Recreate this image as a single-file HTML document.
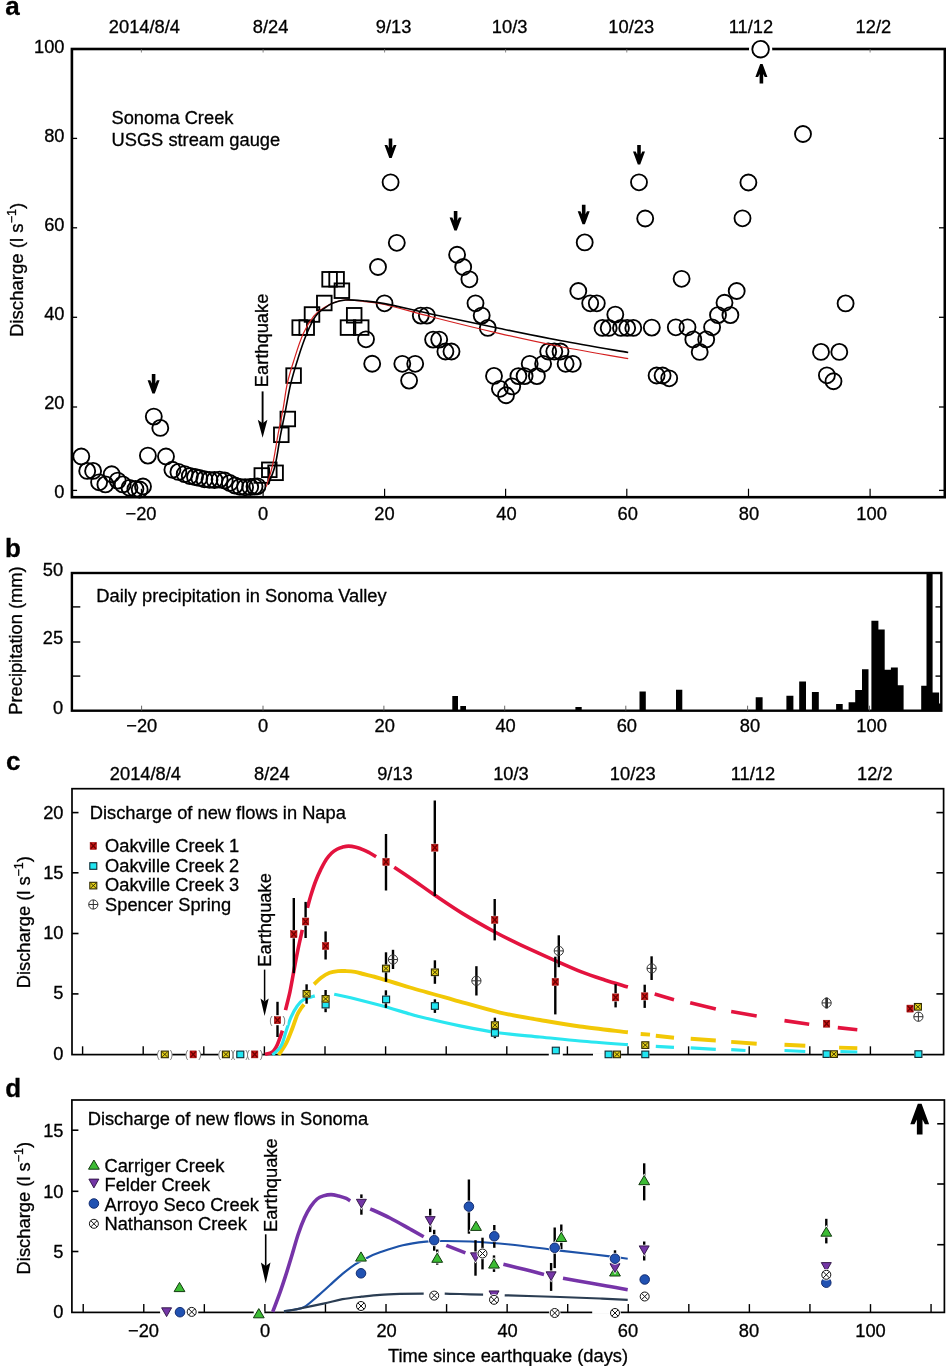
<!DOCTYPE html><html><head><meta charset="utf-8"><style>html,body{margin:0;padding:0;background:#fff;}svg{display:block;will-change:transform;} text{stroke:#000;stroke-width:0.3px;}</style></head><body>
<svg width="946" height="1366" viewBox="0 0 946 1366" font-family="'Liberation Sans', sans-serif" fill="#000">
<rect x="0" y="0" width="946" height="1366" fill="#fff"/>
<text x="5.2" y="14.8" font-size="26" text-anchor="start" font-weight="bold" >a</text>
<text x="144.4" y="33.2" font-size="18.3" text-anchor="middle" font-weight="normal" >2014/8/4</text>
<text x="270.6" y="33.2" font-size="18.3" text-anchor="middle" font-weight="normal" >8/24</text>
<text x="393.6" y="33.2" font-size="18.3" text-anchor="middle" font-weight="normal" >9/13</text>
<text x="509.6" y="33.2" font-size="18.3" text-anchor="middle" font-weight="normal" >10/3</text>
<text x="631.2" y="33.2" font-size="18.3" text-anchor="middle" font-weight="normal" >10/23</text>
<text x="751" y="33.2" font-size="18.3" text-anchor="middle" font-weight="normal" >11/12</text>
<text x="873.4" y="33.2" font-size="18.3" text-anchor="middle" font-weight="normal" >12/2</text>
<rect x="71.9" y="49.0" width="872.9" height="448.2" fill="none" stroke="#000" stroke-width="2.6"/>
<line x1="71.9" y1="138.4" x2="77.10000000000001" y2="138.4" stroke="#000" stroke-width="1.3" />
<line x1="944.8" y1="138.4" x2="939.0" y2="138.4" stroke="#000" stroke-width="1.3" />
<line x1="71.9" y1="227.8" x2="77.10000000000001" y2="227.8" stroke="#000" stroke-width="1.3" />
<line x1="944.8" y1="227.8" x2="939.0" y2="227.8" stroke="#000" stroke-width="1.3" />
<line x1="71.9" y1="317.3" x2="77.10000000000001" y2="317.3" stroke="#000" stroke-width="1.3" />
<line x1="944.8" y1="317.3" x2="939.0" y2="317.3" stroke="#000" stroke-width="1.3" />
<line x1="71.9" y1="407.0" x2="77.10000000000001" y2="407.0" stroke="#000" stroke-width="1.3" />
<line x1="944.8" y1="407.0" x2="939.0" y2="407.0" stroke="#000" stroke-width="1.3" />
<line x1="71.9" y1="490.4" x2="77.10000000000001" y2="490.4" stroke="#000" stroke-width="1.3" />
<line x1="944.8" y1="490.4" x2="939.0" y2="490.4" stroke="#000" stroke-width="1.3" />
<line x1="141.4" y1="497.2" x2="141.4" y2="488.7" stroke="#000" stroke-width="1.2" />
<line x1="141.4" y1="49.0" x2="141.4" y2="52.5" stroke="#666" stroke-width="0.8" />
<line x1="263.1" y1="497.2" x2="263.1" y2="488.7" stroke="#000" stroke-width="1.2" />
<line x1="263.1" y1="49.0" x2="263.1" y2="52.5" stroke="#666" stroke-width="0.8" />
<line x1="384.6" y1="497.2" x2="384.6" y2="488.7" stroke="#000" stroke-width="1.2" />
<line x1="384.6" y1="49.0" x2="384.6" y2="52.5" stroke="#666" stroke-width="0.8" />
<line x1="505.6" y1="497.2" x2="505.6" y2="488.7" stroke="#000" stroke-width="1.2" />
<line x1="505.6" y1="49.0" x2="505.6" y2="52.5" stroke="#666" stroke-width="0.8" />
<line x1="626.8" y1="497.2" x2="626.8" y2="488.7" stroke="#000" stroke-width="1.2" />
<line x1="626.8" y1="49.0" x2="626.8" y2="52.5" stroke="#666" stroke-width="0.8" />
<line x1="748.5" y1="497.2" x2="748.5" y2="488.7" stroke="#000" stroke-width="1.2" />
<line x1="870.1" y1="497.2" x2="870.1" y2="488.7" stroke="#000" stroke-width="1.2" />
<line x1="870.1" y1="49.0" x2="870.1" y2="52.5" stroke="#666" stroke-width="0.8" />
<text x="64.5" y="53" font-size="18.3" text-anchor="end" font-weight="normal" >100</text>
<text x="64.5" y="142.2" font-size="18.3" text-anchor="end" font-weight="normal" >80</text>
<text x="64.5" y="231" font-size="18.3" text-anchor="end" font-weight="normal" >60</text>
<text x="64.5" y="319.8" font-size="18.3" text-anchor="end" font-weight="normal" >40</text>
<text x="64.5" y="409.2" font-size="18.3" text-anchor="end" font-weight="normal" >20</text>
<text x="64.5" y="498.2" font-size="18.3" text-anchor="end" font-weight="normal" >0</text>
<text x="141" y="520" font-size="18.3" text-anchor="middle" font-weight="normal" >−20</text>
<text x="263.1" y="520" font-size="18.3" text-anchor="middle" font-weight="normal" >0</text>
<text x="384.4" y="520" font-size="18.3" text-anchor="middle" font-weight="normal" >20</text>
<text x="506.4" y="520" font-size="18.3" text-anchor="middle" font-weight="normal" >40</text>
<text x="627.7" y="520" font-size="18.3" text-anchor="middle" font-weight="normal" >60</text>
<text x="749" y="520" font-size="18.3" text-anchor="middle" font-weight="normal" >80</text>
<text x="871.6" y="520" font-size="18.3" text-anchor="middle" font-weight="normal" >100</text>
<text transform="translate(22.5,337) rotate(-90)" font-size="18.6">Discharge (l s<tspan dy="-7" font-size="12.5">−1</tspan><tspan dy="7">)</tspan></text>
<text x="111.5" y="123.7" font-size="18.3" text-anchor="start" font-weight="normal" >Sonoma Creek</text>
<text x="111.5" y="146.1" font-size="18.3" text-anchor="start" font-weight="normal" >USGS stream gauge</text>
<g fill="none" stroke="#000" stroke-width="1.85">
<circle cx="81.3" cy="456.5" r="8.0"/>
<circle cx="87.2" cy="470.9" r="8.0"/>
<circle cx="93.1" cy="470.9" r="8.0"/>
<circle cx="99.1" cy="482.3" r="8.0"/>
<circle cx="105.4" cy="484.4" r="8.0"/>
<circle cx="111.7" cy="474.2" r="8.0"/>
<circle cx="117.7" cy="480.6" r="8.0"/>
<circle cx="122.7" cy="484.4" r="8.0"/>
<circle cx="129.5" cy="487.8" r="8.0"/>
<circle cx="135.4" cy="489" r="8.0"/>
<circle cx="139.7" cy="489.5" r="8.0"/>
<circle cx="143" cy="486.5" r="8.0"/>
<circle cx="147.9" cy="455.6" r="8.0"/>
<circle cx="153.8" cy="416.6" r="8.0"/>
<circle cx="160.3" cy="427.9" r="8.0"/>
<circle cx="166" cy="456.5" r="8.0"/>
<circle cx="172.4" cy="469.7" r="8.0"/>
<circle cx="178.4" cy="471.9" r="8.0"/>
<circle cx="184.7" cy="474.1" r="8.0"/>
<circle cx="189.8" cy="476" r="8.0"/>
<circle cx="195" cy="477" r="8.0"/>
<circle cx="199.3" cy="477.9" r="8.0"/>
<circle cx="204.4" cy="479.2" r="8.0"/>
<circle cx="209.5" cy="479.8" r="8.0"/>
<circle cx="214.5" cy="480" r="8.0"/>
<circle cx="219.6" cy="479.6" r="8.0"/>
<circle cx="224.7" cy="480.5" r="8.0"/>
<circle cx="229.8" cy="483" r="8.0"/>
<circle cx="234.9" cy="485.5" r="8.0"/>
<circle cx="240" cy="486.8" r="8.0"/>
<circle cx="245.1" cy="487.2" r="8.0"/>
<circle cx="250.2" cy="487" r="8.0"/>
<circle cx="254.5" cy="486.6" r="8.0"/>
<circle cx="257.5" cy="486.3" r="8.0"/>
<circle cx="378" cy="267" r="8.0"/>
<circle cx="384.5" cy="303.3" r="8.0"/>
<circle cx="390.6" cy="182.3" r="8.0"/>
<circle cx="396.8" cy="242.8" r="8.0"/>
<circle cx="366" cy="339.3" r="8.0"/>
<circle cx="372.2" cy="363.7" r="8.0"/>
<circle cx="402.3" cy="363.8" r="8.0"/>
<circle cx="415.2" cy="363.8" r="8.0"/>
<circle cx="409.1" cy="380.6" r="8.0"/>
<circle cx="420.8" cy="315.6" r="8.0"/>
<circle cx="426.9" cy="315.6" r="8.0"/>
<circle cx="433.1" cy="339.6" r="8.0"/>
<circle cx="439.2" cy="339.6" r="8.0"/>
<circle cx="445.4" cy="351.5" r="8.0"/>
<circle cx="451.5" cy="351.5" r="8.0"/>
<circle cx="457.1" cy="254.7" r="8.0"/>
<circle cx="463.2" cy="267" r="8.0"/>
<circle cx="469.4" cy="279.3" r="8.0"/>
<circle cx="475.5" cy="303.3" r="8.0"/>
<circle cx="481.7" cy="315.6" r="8.0"/>
<circle cx="487.8" cy="327.9" r="8.0"/>
<circle cx="494" cy="375.9" r="8.0"/>
<circle cx="499.9" cy="388.8" r="8.0"/>
<circle cx="506" cy="395.2" r="8.0"/>
<circle cx="512.2" cy="386.4" r="8.0"/>
<circle cx="518.4" cy="376.1" r="8.0"/>
<circle cx="524.6" cy="376.1" r="8.0"/>
<circle cx="529.7" cy="363.8" r="8.0"/>
<circle cx="536.9" cy="376.1" r="8.0"/>
<circle cx="543.1" cy="363.8" r="8.0"/>
<circle cx="548.2" cy="351.5" r="8.0"/>
<circle cx="554.3" cy="351.5" r="8.0"/>
<circle cx="560.5" cy="351.5" r="8.0"/>
<circle cx="565.6" cy="363.8" r="8.0"/>
<circle cx="572.8" cy="363.8" r="8.0"/>
<circle cx="584.7" cy="242.4" r="8.0"/>
<circle cx="578.3" cy="291" r="8.0"/>
<circle cx="590.2" cy="303.3" r="8.0"/>
<circle cx="596.8" cy="303.3" r="8.0"/>
<circle cx="615.3" cy="314.6" r="8.0"/>
<circle cx="602.5" cy="327.9" r="8.0"/>
<circle cx="608.7" cy="327.9" r="8.0"/>
<circle cx="621" cy="327.9" r="8.0"/>
<circle cx="627.2" cy="327.9" r="8.0"/>
<circle cx="633.3" cy="327.9" r="8.0"/>
<circle cx="651.8" cy="327.6" r="8.0"/>
<circle cx="639" cy="182.3" r="8.0"/>
<circle cx="645.2" cy="218.5" r="8.0"/>
<circle cx="656.6" cy="375.5" r="8.0"/>
<circle cx="662.6" cy="375.5" r="8.0"/>
<circle cx="669.2" cy="378.3" r="8.0"/>
<circle cx="803" cy="134" r="8.0"/>
<circle cx="748.4" cy="182.5" r="8.0"/>
<circle cx="742.5" cy="218.3" r="8.0"/>
<circle cx="681.6" cy="278.8" r="8.0"/>
<circle cx="736.7" cy="291" r="8.0"/>
<circle cx="724.5" cy="302.7" r="8.0"/>
<circle cx="718" cy="315.1" r="8.0"/>
<circle cx="730.4" cy="315.1" r="8.0"/>
<circle cx="712.1" cy="327.3" r="8.0"/>
<circle cx="675.8" cy="327.3" r="8.0"/>
<circle cx="687.5" cy="327.3" r="8.0"/>
<circle cx="693.3" cy="339.4" r="8.0"/>
<circle cx="706.2" cy="339.4" r="8.0"/>
<circle cx="699.7" cy="351.9" r="8.0"/>
<circle cx="845.6" cy="303.4" r="8.0"/>
<circle cx="821" cy="351.9" r="8.0"/>
<circle cx="839.3" cy="351.9" r="8.0"/>
<circle cx="826.9" cy="375.3" r="8.0"/>
<circle cx="833.5" cy="381.2" r="8.0"/>
</g>
<g fill="none" stroke="#000" stroke-width="1.85">
<rect x="254.5" y="468.2" width="14.6" height="14.6"/>
<rect x="262.0" y="462.5" width="14.6" height="14.6"/>
<rect x="268.3" y="465.5" width="14.6" height="14.6"/>
<rect x="274.0" y="427.5" width="14.6" height="14.6"/>
<rect x="280.5" y="411.7" width="14.6" height="14.6"/>
<rect x="286.3" y="368.3" width="14.6" height="14.6"/>
<rect x="292.4" y="320.3" width="14.6" height="14.6"/>
<rect x="299.4" y="320.3" width="14.6" height="14.6"/>
<rect x="304.7" y="307.2" width="14.6" height="14.6"/>
<rect x="317.0" y="295.7" width="14.6" height="14.6"/>
<rect x="322.3" y="272.0" width="14.6" height="14.6"/>
<rect x="329.3" y="272.0" width="14.6" height="14.6"/>
<rect x="334.6" y="283.4" width="14.6" height="14.6"/>
<rect x="346.9" y="308.0" width="14.6" height="14.6"/>
<rect x="340.7" y="320.3" width="14.6" height="14.6"/>
<rect x="353.9" y="320.3" width="14.6" height="14.6"/>
</g>
<path d="M266.3,486.6 C267.3,483.1 270.6,474.0 272.5,465.5 C274.4,457.0 276.1,445.0 277.8,435.6 C279.6,426.2 281.4,418.1 283.0,409.3 C284.6,400.5 285.5,391.5 287.4,383.0 C289.3,374.5 291.9,366.6 294.5,358.4 C297.1,350.2 300.0,340.8 303.2,333.8 C306.4,326.8 310.3,320.6 313.8,316.2 C317.3,311.8 320.8,309.7 324.3,307.4 C327.8,305.1 331.4,303.4 334.9,302.2 C338.4,301.0 340.7,300.1 345.4,300.0 C350.1,299.9 356.5,300.6 363.0,301.3 C369.5,302.1 373.0,301.9 384.5,304.5 C396.0,307.1 412.8,312.1 432.0,317.0 C451.2,321.9 478.7,328.7 500.0,333.6 C521.3,338.5 538.6,342.3 560.0,346.5 C581.4,350.7 616.8,356.7 628.2,358.7" fill="none" stroke="#d42020" stroke-width="1.2" stroke-linejoin="round" />
<path d="M268.1,484.8 C269.3,481.6 273.1,473.7 275.1,465.5 C277.2,457.3 278.6,445.0 280.4,435.6 C282.2,426.2 283.9,418.1 285.7,409.3 C287.4,400.5 288.8,391.5 290.9,383.0 C292.9,374.5 295.4,366.6 298.0,358.4 C300.6,350.2 303.8,340.8 306.7,333.8 C309.6,326.8 312.6,320.4 315.5,316.2 C318.4,311.9 321.4,310.5 324.3,308.3 C327.2,306.1 329.6,304.4 333.1,303.0 C336.6,301.6 340.4,300.4 345.4,300.0 C350.4,299.6 356.5,300.2 363.0,300.8 C369.5,301.4 373.0,301.4 384.5,303.6 C396.0,305.8 412.8,310.1 432.0,314.2 C451.2,318.3 478.7,324.1 500.0,328.5 C521.3,332.9 538.6,336.5 560.0,340.5 C581.4,344.5 616.8,350.5 628.2,352.5" fill="none" stroke="#000" stroke-width="1.6" stroke-linejoin="round" />
<circle cx="760.6" cy="49.2" r="11.6" fill="#fff"/>
<circle cx="760.6" cy="49.2" r="8.3" fill="none" stroke="#000" stroke-width="1.85"/>
<path d="M151.80,373.90 L155.40,373.90 L155.40,383.40 L156.90,380.30 L159.60,380.30 L154.80,393.40 L152.40,393.40 L147.60,380.30 L150.30,380.30 L151.80,383.40 Z" fill="#000"/>
<path d="M388.70,138.50 L392.30,138.50 L392.30,148.00 L393.80,144.90 L396.50,144.90 L391.70,158.00 L389.30,158.00 L384.50,144.90 L387.20,144.90 L388.70,148.00 Z" fill="#000"/>
<path d="M453.80,211.00 L457.40,211.00 L457.40,220.50 L458.90,217.40 L461.60,217.40 L456.80,230.50 L454.40,230.50 L449.60,217.40 L452.30,217.40 L453.80,220.50 Z" fill="#000"/>
<path d="M581.90,204.80 L585.50,204.80 L585.50,214.30 L587.00,211.20 L589.70,211.20 L584.90,224.30 L582.50,224.30 L577.70,211.20 L580.40,211.20 L581.90,214.30 Z" fill="#000"/>
<path d="M637.20,145.00 L640.80,145.00 L640.80,154.50 L642.30,151.40 L645.00,151.40 L640.20,164.50 L637.80,164.50 L633.00,151.40 L635.70,151.40 L637.20,154.50 Z" fill="#000"/>
<path d="M759.60,83.50 L763.20,83.50 L763.20,74.00 L764.70,77.10 L767.40,77.10 L762.60,64.00 L760.20,64.00 L755.40,77.10 L758.10,77.10 L759.60,74.00 Z" fill="#000"/>
<text transform="translate(268.3,387.2) rotate(-90)" font-size="18.3">Earthquake</text>
<line x1="262.6" y1="391.4" x2="262.6" y2="423.3" stroke="#000" stroke-width="1.9" />
<path d="M262.6,437.8 L257.8,419.8 L262.6,423.3 L267.40000000000003,419.8 Z" fill="#000"/>
<text x="5" y="557.2" font-size="26" text-anchor="start" font-weight="bold" >b</text>
<rect x="71.9" y="573.0" width="869.4" height="137.70000000000005" fill="none" stroke="#000" stroke-width="2.4"/>
<line x1="71.9" y1="606.9" x2="80.30000000000001" y2="606.9" stroke="#000" stroke-width="1.4" />
<line x1="941.3" y1="606.9" x2="935.5" y2="606.9" stroke="#000" stroke-width="1.4" />
<line x1="71.9" y1="642.0" x2="80.30000000000001" y2="642.0" stroke="#000" stroke-width="1.4" />
<line x1="941.3" y1="642.0" x2="935.5" y2="642.0" stroke="#000" stroke-width="1.4" />
<line x1="71.9" y1="676.1" x2="80.30000000000001" y2="676.1" stroke="#000" stroke-width="1.4" />
<line x1="941.3" y1="676.1" x2="935.5" y2="676.1" stroke="#000" stroke-width="1.4" />
<line x1="141.6" y1="710.7" x2="141.6" y2="705.7" stroke="#555" stroke-width="0.9" />
<line x1="263.0" y1="710.7" x2="263.0" y2="705.7" stroke="#555" stroke-width="0.9" />
<line x1="383.9" y1="710.7" x2="383.9" y2="705.7" stroke="#555" stroke-width="0.9" />
<line x1="504.7" y1="710.7" x2="504.7" y2="705.7" stroke="#555" stroke-width="0.9" />
<line x1="625.8" y1="710.7" x2="625.8" y2="705.7" stroke="#555" stroke-width="0.9" />
<line x1="747.6" y1="710.7" x2="747.6" y2="705.7" stroke="#555" stroke-width="0.9" />
<line x1="869.5" y1="710.7" x2="869.5" y2="705.7" stroke="#555" stroke-width="0.9" />
<text x="63.2" y="576.3" font-size="18.3" text-anchor="end" font-weight="normal" >50</text>
<text x="63.2" y="644.4" font-size="18.3" text-anchor="end" font-weight="normal" >25</text>
<text x="63.2" y="713.8" font-size="18.3" text-anchor="end" font-weight="normal" >0</text>
<text x="141.8" y="731.8" font-size="18.3" text-anchor="middle" font-weight="normal" >−20</text>
<text x="263" y="731.8" font-size="18.3" text-anchor="middle" font-weight="normal" >0</text>
<text x="384.7" y="731.8" font-size="18.3" text-anchor="middle" font-weight="normal" >20</text>
<text x="505.6" y="731.8" font-size="18.3" text-anchor="middle" font-weight="normal" >40</text>
<text x="626.8" y="731.8" font-size="18.3" text-anchor="middle" font-weight="normal" >60</text>
<text x="750" y="731.8" font-size="18.3" text-anchor="middle" font-weight="normal" >80</text>
<text x="871.6" y="731.8" font-size="18.3" text-anchor="middle" font-weight="normal" >100</text>
<text transform="translate(22.3,714.7) rotate(-90)" font-size="18.3">Precipitation (mm)</text>
<text x="96.3" y="602.3" font-size="18.3" text-anchor="start" font-weight="normal" >Daily precipitation in Sonoma Valley</text>
<path d="M452.3,710.7 L452.3,696.1 L458.0,696.1 L458.0,710.7 Z M460.3,710.7 L460.3,706 L466.0,706 L466.0,710.7 Z M575.4,710.7 L575.4,706.9 L581.7,706.9 L581.7,710.7 Z M639.5,710.7 L639.5,691.4 L645.8,691.4 L645.8,710.7 Z M676,710.7 L676,689.8 L682.3,689.8 L682.3,710.7 Z M755.7,710.7 L755.7,697.2 L762.6,697.2 L762.6,710.7 Z M786.4,710.7 L786.4,695.7 L793.4,695.7 L793.4,710.7 Z M799.2,710.7 L799.2,681.5 L806.0,681.5 L806.0,710.7 Z M811.9,710.7 L811.9,692 L818.8,692 L818.8,710.7 Z M836.1,710.7 L836.1,704 L842.7,704 L842.7,710.7 Z M848.6,710.7 L848.6,702.3 L855.8,702.3 L855.8,710.7 Z M855.2,710.7 L855.2,689.9 L862.6,689.9 L862.6,710.7 Z M862,710.7 L862,669.2 L868.5,669.2 L868.5,710.7 Z M871.4,710.7 L871.4,620.7 L878.4,620.7 L878.4,710.7 Z M877.8,710.7 L877.8,629.6 L884.7,629.6 L884.7,710.7 Z M884.1,710.7 L884.1,669.8 L891.5,669.8 L891.5,710.7 Z M890.9,710.7 L890.9,667.4 L897.8,667.4 L897.8,710.7 Z M897.2,710.7 L897.2,685.2 L903.6,685.2 L903.6,710.7 Z M921.2,710.7 L921.2,685.8 L927.1,685.8 L927.1,710.7 Z M926.5,710.7 L926.5,573 L932.6,573 L932.6,710.7 Z M932,710.7 L932,692.6 L939.1,692.6 L939.1,710.7 Z M938.5,710.7 L938.5,703.4 L941.0,703.4 L941.0,710.7 Z " fill="#000"/>
<text x="6" y="770.4" font-size="26" text-anchor="start" font-weight="bold" >c</text>
<text x="145.4" y="779.9" font-size="18.3" text-anchor="middle" font-weight="normal" >2014/8/4</text>
<text x="271.9" y="779.9" font-size="18.3" text-anchor="middle" font-weight="normal" >8/24</text>
<text x="395" y="779.9" font-size="18.3" text-anchor="middle" font-weight="normal" >9/13</text>
<text x="511" y="779.9" font-size="18.3" text-anchor="middle" font-weight="normal" >10/3</text>
<text x="632.7" y="779.9" font-size="18.3" text-anchor="middle" font-weight="normal" >10/23</text>
<text x="752.9" y="779.9" font-size="18.3" text-anchor="middle" font-weight="normal" >11/12</text>
<text x="874.8" y="779.9" font-size="18.3" text-anchor="middle" font-weight="normal" >12/2</text>
<rect x="72.0" y="788.7" width="871.6" height="265.89999999999986" fill="none" stroke="#000" stroke-width="1.7"/>
<line x1="72.0" y1="812.6" x2="78.5" y2="812.6" stroke="#000" stroke-width="1.6" />
<line x1="943.6" y1="812.6" x2="936.4" y2="812.6" stroke="#000" stroke-width="1.6" />
<line x1="72.0" y1="872.8" x2="78.5" y2="872.8" stroke="#000" stroke-width="1.6" />
<line x1="943.6" y1="872.8" x2="936.4" y2="872.8" stroke="#000" stroke-width="1.6" />
<line x1="72.0" y1="933.5" x2="78.5" y2="933.5" stroke="#000" stroke-width="1.6" />
<line x1="943.6" y1="933.5" x2="936.4" y2="933.5" stroke="#000" stroke-width="1.6" />
<line x1="72.0" y1="993.9" x2="78.5" y2="993.9" stroke="#000" stroke-width="1.6" />
<line x1="943.6" y1="993.9" x2="936.4" y2="993.9" stroke="#000" stroke-width="1.6" />
<line x1="82.6" y1="1054.6" x2="82.6" y2="1046.3" stroke="#000" stroke-width="1.4" />
<line x1="143.2" y1="1054.6" x2="143.2" y2="1046.3" stroke="#000" stroke-width="1.4" />
<line x1="203.79999999999998" y1="1054.6" x2="203.79999999999998" y2="1046.3" stroke="#000" stroke-width="1.4" />
<line x1="264.4" y1="1054.6" x2="264.4" y2="1046.3" stroke="#000" stroke-width="1.4" />
<line x1="325.0" y1="1054.6" x2="325.0" y2="1046.3" stroke="#000" stroke-width="1.4" />
<line x1="385.59999999999997" y1="1054.6" x2="385.59999999999997" y2="1046.3" stroke="#000" stroke-width="1.4" />
<line x1="446.19999999999993" y1="1054.6" x2="446.19999999999993" y2="1046.3" stroke="#000" stroke-width="1.4" />
<line x1="506.79999999999995" y1="1054.6" x2="506.79999999999995" y2="1046.3" stroke="#000" stroke-width="1.4" />
<line x1="567.4" y1="1054.6" x2="567.4" y2="1046.3" stroke="#000" stroke-width="1.4" />
<line x1="628.0" y1="1054.6" x2="628.0" y2="1046.3" stroke="#000" stroke-width="1.4" />
<line x1="688.5999999999999" y1="1054.6" x2="688.5999999999999" y2="1046.3" stroke="#000" stroke-width="1.4" />
<line x1="749.1999999999999" y1="1054.6" x2="749.1999999999999" y2="1046.3" stroke="#000" stroke-width="1.4" />
<line x1="809.8" y1="1054.6" x2="809.8" y2="1046.3" stroke="#000" stroke-width="1.4" />
<line x1="870.4" y1="1054.6" x2="870.4" y2="1046.3" stroke="#000" stroke-width="1.4" />
<text x="63.5" y="818.6" font-size="18.3" text-anchor="end" font-weight="normal" >20</text>
<text x="63.5" y="879" font-size="18.3" text-anchor="end" font-weight="normal" >15</text>
<text x="63.5" y="938.9" font-size="18.3" text-anchor="end" font-weight="normal" >10</text>
<text x="63.5" y="999" font-size="18.3" text-anchor="end" font-weight="normal" >5</text>
<text x="63.5" y="1059.9" font-size="18.3" text-anchor="end" font-weight="normal" >0</text>
<text transform="translate(30.2,988.2) rotate(-90)" font-size="18.3">Discharge (l s<tspan dy="-7" font-size="12.5">−1</tspan><tspan dy="7">)</tspan></text>
<text x="89.8" y="819.3" font-size="18.3" text-anchor="start" font-weight="normal" >Discharge of new flows in Napa</text>
<rect x="90.10" y="842.40" width="6.4" height="7.0" fill="#d01818" stroke="#8a0000" stroke-width="0.5"/>
<path d="M90.70,843.00 L95.90,848.80 M95.90,843.00 L90.70,848.80" stroke="#6e0000" stroke-width="1.3"/>
<text x="105.1" y="852" font-size="18.3" text-anchor="start" font-weight="normal" >Oakville Creek 1</text>
<rect x="89.80" y="862.70" width="7.0" height="6.6" fill="#22e6f2" stroke="#0b2a33" stroke-width="1.1"/>
<text x="105.1" y="871.8" font-size="18.3" text-anchor="start" font-weight="normal" >Oakville Creek 2</text>
<rect x="89.80" y="882.30" width="7.0" height="6.6" fill="#e6d21a" stroke="#2e2800" stroke-width="1.1"/>
<path d="M90.70,883.20 L95.90,888.00 M95.90,883.20 L90.70,888.00" stroke="#2e2800" stroke-width="0.9"/>
<text x="105.1" y="891.2" font-size="18.3" text-anchor="start" font-weight="normal" >Oakville Creek 3</text>
<circle cx="93.3" cy="904.5" r="4.6" fill="none" stroke="#333" stroke-width="1.0"/>
<path d="M88.7,904.5 L97.89999999999999,904.5 M93.3,899.9 L93.3,909.1" stroke="#333" stroke-width="1.0"/>
<text x="105.1" y="911.3" font-size="18.3" text-anchor="start" font-weight="normal" >Spencer Spring</text>
<path d="M265.0,1054.4 C266.2,1054.0 270.4,1053.6 272.5,1051.9 C274.6,1050.2 275.8,1047.9 277.4,1044.4 C279.0,1040.9 281.6,1033.0 282.4,1030.7" fill="none" stroke="#e3133e" stroke-width="3.6" stroke-linejoin="round" />
<path d="M285.5,1010.2 C286.2,1007.2 288.5,998.4 289.9,992.1 C291.2,985.8 292.4,978.8 293.6,972.2 C294.9,965.6 295.9,959.3 297.4,952.3 C298.8,945.2 301.5,933.6 302.3,929.9" fill="none" stroke="#e3133e" stroke-width="3.6" stroke-linejoin="round" />
<path d="M307.4,907.9 C307.9,906.0 309.2,900.9 310.6,896.3 C312.0,891.7 314.1,885.1 315.9,880.5 C317.6,875.9 319.4,872.3 321.1,868.8 C322.9,865.3 324.6,861.9 326.4,859.3 C328.2,856.7 329.9,854.7 331.7,853.0 C333.5,851.3 335.2,850.3 337.0,849.3 C338.8,848.3 340.4,847.7 342.3,847.2 C344.2,846.7 346.3,846.1 348.6,846.1 C350.9,846.1 353.5,846.6 356.0,847.2 C358.5,847.8 361.1,848.8 363.4,849.8 C365.7,850.8 367.7,851.9 369.8,853.0 C371.9,854.1 375.1,856.1 376.1,856.7" fill="none" stroke="#e3133e" stroke-width="3.6" stroke-linejoin="round" />
<path d="M394.2,867.2 C397.7,869.5 408.2,876.5 415.0,881.2 C421.8,885.9 426.9,889.8 434.9,895.2 C442.9,900.6 452.8,907.5 462.8,913.6 C472.8,919.7 485.4,926.8 494.9,932.0 C504.4,937.2 510.2,940.0 520.0,944.6 C529.8,949.2 543.3,955.2 553.5,959.8 C563.7,964.3 572.9,968.5 581.4,971.9 C589.9,975.3 597.0,977.5 604.7,980.0 C612.5,982.5 624.0,985.8 627.9,987.0" fill="none" stroke="#e3133e" stroke-width="3.6" stroke-linejoin="round" />
<polyline points="654.7,994.0 674.0,999.8" fill="none" stroke="#e3133e" stroke-width="3.6" stroke-linejoin="round" stroke-linecap="butt" />
<polyline points="690.2,1002.8 715.8,1009.0" fill="none" stroke="#e3133e" stroke-width="3.6" stroke-linejoin="round" stroke-linecap="butt" />
<polyline points="731.2,1011.5 756.7,1015.9" fill="none" stroke="#e3133e" stroke-width="3.6" stroke-linejoin="round" stroke-linecap="butt" />
<polyline points="784.5,1020.6 809.2,1024.2" fill="none" stroke="#e3133e" stroke-width="3.6" stroke-linejoin="round" stroke-linecap="butt" />
<polyline points="837.8,1027.6 857.3,1029.7" fill="none" stroke="#e3133e" stroke-width="3.6" stroke-linejoin="round" stroke-linecap="butt" />
<path d="M278.7,1055.0 C279.9,1053.0 283.9,1047.7 286.2,1043.2 C288.5,1038.7 290.5,1033.0 292.4,1028.2 C294.3,1023.4 295.9,1017.8 297.4,1014.5 C298.8,1011.2 300.0,1010.0 301.1,1008.3 C302.2,1006.6 303.5,1005.1 304.0,1004.5" fill="none" stroke="#f2c806" stroke-width="3.9" stroke-linejoin="round" />
<path d="M314.0,984.2 C315.2,983.1 318.5,979.7 321.1,977.8 C323.7,975.9 326.8,973.9 329.6,972.8 C332.4,971.7 335.2,971.4 338.0,971.1 C340.8,970.8 343.7,971.0 346.5,971.1 C349.3,971.2 352.2,971.4 355.0,971.9 C357.8,972.4 360.6,973.3 363.4,974.0 C366.2,974.7 369.1,975.4 371.9,976.1 C374.7,976.8 373.6,976.4 380.0,978.3 C386.4,980.2 397.8,983.9 410.0,987.5 C422.2,991.1 438.5,995.6 453.5,999.8 C468.5,1004.0 485.6,1009.2 500.0,1012.6 C514.4,1016.0 526.7,1017.7 540.0,1020.0 C553.3,1022.3 565.4,1024.5 580.0,1026.5 C594.6,1028.5 619.9,1031.3 627.9,1032.3" fill="none" stroke="#f2c806" stroke-width="3.9" stroke-linejoin="round" />
<polyline points="640.7,1034.0 650.0,1034.6" fill="none" stroke="#f2c806" stroke-width="3.9" stroke-linejoin="round" stroke-linecap="butt" />
<polyline points="655.8,1035.8 674.0,1037.7" fill="none" stroke="#f2c806" stroke-width="3.9" stroke-linejoin="round" stroke-linecap="butt" />
<polyline points="690.7,1038.8 715.8,1040.5" fill="none" stroke="#f2c806" stroke-width="3.9" stroke-linejoin="round" stroke-linecap="butt" />
<polyline points="731.2,1041.9 756.7,1043.7" fill="none" stroke="#f2c806" stroke-width="3.9" stroke-linejoin="round" stroke-linecap="butt" />
<polyline points="784.5,1044.8 805.3,1045.8" fill="none" stroke="#f2c806" stroke-width="3.9" stroke-linejoin="round" stroke-linecap="butt" />
<polyline points="839.1,1047.6 857.3,1048.1" fill="none" stroke="#f2c806" stroke-width="3.9" stroke-linejoin="round" stroke-linecap="butt" />
<path d="M272.5,1055.0 C273.9,1053.5 278.9,1049.8 281.2,1045.7 C283.5,1041.7 284.5,1035.5 286.2,1030.7 C287.9,1025.9 289.2,1021.1 291.1,1017.0 C293.0,1012.9 295.3,1008.7 297.4,1005.8 C299.5,1002.9 300.7,1001.2 303.6,999.6 C306.5,998.0 312.9,996.5 314.8,995.9" fill="none" stroke="#2ae6f0" stroke-width="3.2" stroke-linejoin="round" />
<path d="M334.2,994.3 C336.9,994.9 343.1,995.9 350.7,997.7 C358.3,999.5 370.1,1002.6 380.0,1005.3 C389.9,1008.0 403.3,1012.1 410.0,1014.0 C416.7,1015.9 411.7,1014.8 420.0,1016.8 C428.3,1018.8 446.7,1023.2 460.0,1025.9 C473.3,1028.6 486.7,1031.2 500.0,1033.0 C513.3,1034.8 526.7,1035.7 540.0,1037.0 C553.3,1038.3 565.4,1039.7 580.0,1041.0 C594.6,1042.3 619.9,1044.1 627.9,1044.7" fill="none" stroke="#2ae6f0" stroke-width="3.2" stroke-linejoin="round" />
<polyline points="655.8,1046.3 674.0,1047.4" fill="none" stroke="#2ae6f0" stroke-width="3.2" stroke-linejoin="round" stroke-linecap="butt" />
<polyline points="690.7,1047.9 715.8,1049.3" fill="none" stroke="#2ae6f0" stroke-width="3.2" stroke-linejoin="round" stroke-linecap="butt" />
<polyline points="731.2,1049.7 745.5,1050.5" fill="none" stroke="#2ae6f0" stroke-width="3.2" stroke-linejoin="round" stroke-linecap="butt" />
<polyline points="784.5,1050.5 805.3,1051.5" fill="none" stroke="#2ae6f0" stroke-width="3.2" stroke-linejoin="round" stroke-linecap="butt" />
<polyline points="840.4,1051.5 857.3,1052.0" fill="none" stroke="#2ae6f0" stroke-width="3.2" stroke-linejoin="round" stroke-linecap="butt" />
<rect x="157.4" y="1048.6" width="14.8" height="12" fill="#fff"/>
<rect x="185.79999999999998" y="1048.6" width="14.8" height="12" fill="#fff"/>
<rect x="218.5" y="1048.6" width="14.8" height="12" fill="#fff"/>
<rect x="232.9" y="1048.6" width="14.8" height="12" fill="#fff"/>
<rect x="247.29999999999998" y="1048.6" width="14.8" height="12" fill="#fff"/>
<rect x="161.30" y="1051.10" width="7.0" height="6.6" fill="#e6d21a" stroke="#2e2800" stroke-width="1.1"/>
<path d="M162.20,1052.00 L167.40,1056.80 M167.40,1052.00 L162.20,1056.80" stroke="#2e2800" stroke-width="0.9"/>
<text x="158.20000000000002" y="1057.8000000000002" font-size="10" style="fill:#777;stroke:none" text-anchor="middle">(</text>
<text x="171.4" y="1057.8000000000002" font-size="10" style="fill:#777;stroke:none" text-anchor="middle">)</text>
<rect x="190.00" y="1050.90" width="6.4" height="7.0" fill="#d01818" stroke="#8a0000" stroke-width="0.5"/>
<path d="M190.60,1051.50 L195.80,1057.30 M195.80,1051.50 L190.60,1057.30" stroke="#6e0000" stroke-width="1.3"/>
<text x="186.6" y="1057.8000000000002" font-size="10" style="fill:#777;stroke:none" text-anchor="middle">(</text>
<text x="199.79999999999998" y="1057.8000000000002" font-size="10" style="fill:#777;stroke:none" text-anchor="middle">)</text>
<rect x="222.40" y="1051.10" width="7.0" height="6.6" fill="#e6d21a" stroke="#2e2800" stroke-width="1.1"/>
<path d="M223.30,1052.00 L228.50,1056.80 M228.50,1052.00 L223.30,1056.80" stroke="#2e2800" stroke-width="0.9"/>
<text x="219.3" y="1057.8000000000002" font-size="10" style="fill:#777;stroke:none" text-anchor="middle">(</text>
<text x="232.5" y="1057.8000000000002" font-size="10" style="fill:#777;stroke:none" text-anchor="middle">)</text>
<rect x="236.80" y="1051.10" width="7.0" height="6.6" fill="#22e6f2" stroke="#0b2a33" stroke-width="1.1"/>
<text x="233.70000000000002" y="1057.8000000000002" font-size="10" style="fill:#777;stroke:none" text-anchor="middle">(</text>
<text x="246.9" y="1057.8000000000002" font-size="10" style="fill:#777;stroke:none" text-anchor="middle">)</text>
<rect x="251.50" y="1050.90" width="6.4" height="7.0" fill="#d01818" stroke="#8a0000" stroke-width="0.5"/>
<path d="M252.10,1051.50 L257.30,1057.30 M257.30,1051.50 L252.10,1057.30" stroke="#6e0000" stroke-width="1.3"/>
<text x="248.1" y="1057.8000000000002" font-size="10" style="fill:#777;stroke:none" text-anchor="middle">(</text>
<text x="261.3" y="1057.8000000000002" font-size="10" style="fill:#777;stroke:none" text-anchor="middle">)</text>
<rect x="593" y="1053.1" width="12.8" height="3" fill="#fff"/>
<rect x="548.8" y="1053.1" width="14" height="3" fill="#fff"/>
<line x1="277.5" y1="1001.8" x2="277.5" y2="1037" stroke="#000" stroke-width="2.4"/>
<line x1="293.8" y1="898" x2="293.8" y2="973.2" stroke="#000" stroke-width="2.4"/>
<line x1="305.6" y1="901.9" x2="305.6" y2="938" stroke="#000" stroke-width="2.4"/>
<line x1="325.6" y1="931.4" x2="325.6" y2="959.5" stroke="#000" stroke-width="2.4"/>
<line x1="386" y1="834" x2="386" y2="890.5" stroke="#000" stroke-width="2.4"/>
<line x1="434.8" y1="800.5" x2="434.8" y2="896" stroke="#000" stroke-width="2.4"/>
<line x1="494.7" y1="899" x2="494.7" y2="940.4" stroke="#000" stroke-width="2.4"/>
<line x1="555.3" y1="956.7" x2="555.3" y2="1014.4" stroke="#000" stroke-width="2.4"/>
<line x1="615.6" y1="984.2" x2="615.6" y2="1007.4" stroke="#000" stroke-width="2.4"/>
<line x1="644.7" y1="984.7" x2="644.7" y2="1007.9" stroke="#000" stroke-width="2.4"/>
<line x1="306.6" y1="984.3" x2="306.6" y2="1003.7" stroke="#000" stroke-width="2.4"/>
<line x1="325.6" y1="990" x2="325.6" y2="1012.2" stroke="#000" stroke-width="2.4"/>
<line x1="386" y1="952.3" x2="386" y2="981.8" stroke="#000" stroke-width="2.4"/>
<line x1="434.9" y1="960.3" x2="434.9" y2="983.8" stroke="#000" stroke-width="2.4"/>
<line x1="494.9" y1="1017.7" x2="494.9" y2="1038.2" stroke="#000" stroke-width="2.4"/>
<line x1="434.9" y1="999.3" x2="434.9" y2="1012.9" stroke="#000" stroke-width="2.4"/>
<line x1="385.9" y1="990.3" x2="385.9" y2="1007.9" stroke="#000" stroke-width="2.4"/>
<line x1="393" y1="949.8" x2="393" y2="969" stroke="#000" stroke-width="2.4"/>
<line x1="476.4" y1="966.2" x2="476.4" y2="995.5" stroke="#000" stroke-width="2.4"/>
<line x1="558.8" y1="935.3" x2="558.8" y2="967.2" stroke="#000" stroke-width="2.4"/>
<line x1="651.6" y1="956.3" x2="651.6" y2="980" stroke="#000" stroke-width="2.4"/>
<line x1="826.6" y1="997.5" x2="826.6" y2="1008.5" stroke="#000" stroke-width="2.4"/>
<rect x="267.5" y="1015.2" width="20" height="10" fill="#fff"/>
<rect x="274.30" y="1016.70" width="6.4" height="7.0" fill="#d01818" stroke="#8a0000" stroke-width="0.5"/>
<path d="M274.90,1017.30 L280.10,1023.10 M280.10,1017.30 L274.90,1023.10" stroke="#6e0000" stroke-width="1.3"/>
<text x="270.9" y="1023.6" font-size="10" style="fill:#777;stroke:none" text-anchor="middle">(</text>
<text x="284.1" y="1023.6" font-size="10" style="fill:#777;stroke:none" text-anchor="middle">)</text>
<rect x="290.00" y="930.10" width="7.6000000000000005" height="8.2" fill="#fff"/>
<rect x="290.60" y="930.70" width="6.4" height="7.0" fill="#d01818" stroke="#8a0000" stroke-width="0.5"/>
<path d="M291.20,931.30 L296.40,937.10 M296.40,931.30 L291.20,937.10" stroke="#6e0000" stroke-width="1.3"/>
<rect x="301.80" y="917.40" width="7.6000000000000005" height="8.2" fill="#fff"/>
<rect x="302.40" y="918.00" width="6.4" height="7.0" fill="#d01818" stroke="#8a0000" stroke-width="0.5"/>
<path d="M303.00,918.60 L308.20,924.40 M308.20,918.60 L303.00,924.40" stroke="#6e0000" stroke-width="1.3"/>
<rect x="321.80" y="941.90" width="7.6000000000000005" height="8.2" fill="#fff"/>
<rect x="322.40" y="942.50" width="6.4" height="7.0" fill="#d01818" stroke="#8a0000" stroke-width="0.5"/>
<path d="M323.00,943.10 L328.20,948.90 M328.20,943.10 L323.00,948.90" stroke="#6e0000" stroke-width="1.3"/>
<rect x="382.20" y="857.80" width="7.6000000000000005" height="8.2" fill="#fff"/>
<rect x="382.80" y="858.40" width="6.4" height="7.0" fill="#d01818" stroke="#8a0000" stroke-width="0.5"/>
<path d="M383.40,859.00 L388.60,864.80 M388.60,859.00 L383.40,864.80" stroke="#6e0000" stroke-width="1.3"/>
<rect x="431.00" y="843.60" width="7.6000000000000005" height="8.2" fill="#fff"/>
<rect x="431.60" y="844.20" width="6.4" height="7.0" fill="#d01818" stroke="#8a0000" stroke-width="0.5"/>
<path d="M432.20,844.80 L437.40,850.60 M437.40,844.80 L432.20,850.60" stroke="#6e0000" stroke-width="1.3"/>
<rect x="490.90" y="915.80" width="7.6000000000000005" height="8.2" fill="#fff"/>
<rect x="491.50" y="916.40" width="6.4" height="7.0" fill="#d01818" stroke="#8a0000" stroke-width="0.5"/>
<path d="M492.10,917.00 L497.30,922.80 M497.30,917.00 L492.10,922.80" stroke="#6e0000" stroke-width="1.3"/>
<rect x="551.50" y="977.80" width="7.6000000000000005" height="8.2" fill="#fff"/>
<rect x="552.10" y="978.40" width="6.4" height="7.0" fill="#d01818" stroke="#8a0000" stroke-width="0.5"/>
<path d="M552.70,979.00 L557.90,984.80 M557.90,979.00 L552.70,984.80" stroke="#6e0000" stroke-width="1.3"/>
<rect x="611.80" y="993.30" width="7.6000000000000005" height="8.2" fill="#fff"/>
<rect x="612.40" y="993.90" width="6.4" height="7.0" fill="#d01818" stroke="#8a0000" stroke-width="0.5"/>
<path d="M613.00,994.50 L618.20,1000.30 M618.20,994.50 L613.00,1000.30" stroke="#6e0000" stroke-width="1.3"/>
<rect x="640.90" y="992.20" width="7.6000000000000005" height="8.2" fill="#fff"/>
<rect x="641.50" y="992.80" width="6.4" height="7.0" fill="#d01818" stroke="#8a0000" stroke-width="0.5"/>
<path d="M642.10,993.40 L647.30,999.20 M647.30,993.40 L642.10,999.20" stroke="#6e0000" stroke-width="1.3"/>
<rect x="822.80" y="1019.60" width="7.6000000000000005" height="8.2" fill="#fff"/>
<rect x="823.40" y="1020.20" width="6.4" height="7.0" fill="#d01818" stroke="#8a0000" stroke-width="0.5"/>
<path d="M824.00,1020.80 L829.20,1026.60 M829.20,1020.80 L824.00,1026.60" stroke="#6e0000" stroke-width="1.3"/>
<rect x="906.30" y="1004.50" width="7.6000000000000005" height="8.2" fill="#fff"/>
<rect x="906.90" y="1005.10" width="6.4" height="7.0" fill="#d01818" stroke="#8a0000" stroke-width="0.5"/>
<path d="M907.50,1005.70 L912.70,1011.50 M912.70,1005.70 L907.50,1011.50" stroke="#6e0000" stroke-width="1.3"/>
<rect x="321.50" y="1000.70" width="8.2" height="7.8" fill="#fff"/>
<rect x="322.10" y="1001.30" width="7.0" height="6.6" fill="#22e6f2" stroke="#0b2a33" stroke-width="1.1"/>
<rect x="382.00" y="995.50" width="8.2" height="7.8" fill="#fff"/>
<rect x="382.60" y="996.10" width="7.0" height="6.6" fill="#22e6f2" stroke="#0b2a33" stroke-width="1.1"/>
<rect x="430.80" y="1002.10" width="8.2" height="7.8" fill="#fff"/>
<rect x="431.40" y="1002.70" width="7.0" height="6.6" fill="#22e6f2" stroke="#0b2a33" stroke-width="1.1"/>
<rect x="490.80" y="1029.00" width="8.2" height="7.8" fill="#fff"/>
<rect x="491.40" y="1029.60" width="7.0" height="6.6" fill="#22e6f2" stroke="#0b2a33" stroke-width="1.1"/>
<rect x="551.70" y="1046.60" width="8.2" height="7.8" fill="#fff"/>
<rect x="552.30" y="1047.20" width="7.0" height="6.6" fill="#22e6f2" stroke="#0b2a33" stroke-width="1.1"/>
<rect x="604.50" y="1050.50" width="8.2" height="7.8" fill="#fff"/>
<rect x="605.10" y="1051.10" width="7.0" height="6.6" fill="#22e6f2" stroke="#0b2a33" stroke-width="1.1"/>
<rect x="641.20" y="1050.50" width="8.2" height="7.8" fill="#fff"/>
<rect x="641.80" y="1051.10" width="7.0" height="6.6" fill="#22e6f2" stroke="#0b2a33" stroke-width="1.1"/>
<rect x="822.50" y="1050.20" width="8.2" height="7.8" fill="#fff"/>
<rect x="823.10" y="1050.80" width="7.0" height="6.6" fill="#22e6f2" stroke="#0b2a33" stroke-width="1.1"/>
<rect x="914.30" y="1050.20" width="8.2" height="7.8" fill="#fff"/>
<rect x="914.90" y="1050.80" width="7.0" height="6.6" fill="#22e6f2" stroke="#0b2a33" stroke-width="1.1"/>
<rect x="302.50" y="989.90" width="8.2" height="7.8" fill="#fff"/>
<rect x="303.10" y="990.50" width="7.0" height="6.6" fill="#e6d21a" stroke="#2e2800" stroke-width="1.1"/>
<path d="M304.00,991.40 L309.20,996.20 M309.20,991.40 L304.00,996.20" stroke="#2e2800" stroke-width="0.9"/>
<rect x="321.50" y="995.00" width="8.2" height="7.8" fill="#fff"/>
<rect x="322.10" y="995.60" width="7.0" height="6.6" fill="#e6d21a" stroke="#2e2800" stroke-width="1.1"/>
<path d="M323.00,996.50 L328.20,1001.30 M328.20,996.50 L323.00,1001.30" stroke="#2e2800" stroke-width="0.9"/>
<rect x="381.90" y="964.60" width="8.2" height="7.8" fill="#fff"/>
<rect x="382.50" y="965.20" width="7.0" height="6.6" fill="#e6d21a" stroke="#2e2800" stroke-width="1.1"/>
<path d="M383.40,966.10 L388.60,970.90 M388.60,966.10 L383.40,970.90" stroke="#2e2800" stroke-width="0.9"/>
<rect x="430.80" y="968.40" width="8.2" height="7.8" fill="#fff"/>
<rect x="431.40" y="969.00" width="7.0" height="6.6" fill="#e6d21a" stroke="#2e2800" stroke-width="1.1"/>
<path d="M432.30,969.90 L437.50,974.70 M437.50,969.90 L432.30,974.70" stroke="#2e2800" stroke-width="0.9"/>
<rect x="490.80" y="1021.20" width="8.2" height="7.8" fill="#fff"/>
<rect x="491.40" y="1021.80" width="7.0" height="6.6" fill="#e6d21a" stroke="#2e2800" stroke-width="1.1"/>
<path d="M492.30,1022.70 L497.50,1027.50 M497.50,1022.70 L492.30,1027.50" stroke="#2e2800" stroke-width="0.9"/>
<rect x="612.90" y="1050.50" width="8.2" height="7.8" fill="#fff"/>
<rect x="613.50" y="1051.10" width="7.0" height="6.6" fill="#e6d21a" stroke="#2e2800" stroke-width="1.1"/>
<path d="M614.40,1052.00 L619.60,1056.80 M619.60,1052.00 L614.40,1056.80" stroke="#2e2800" stroke-width="0.9"/>
<rect x="641.20" y="1041.20" width="8.2" height="7.8" fill="#fff"/>
<rect x="641.80" y="1041.80" width="7.0" height="6.6" fill="#e6d21a" stroke="#2e2800" stroke-width="1.1"/>
<path d="M642.70,1042.70 L647.90,1047.50 M647.90,1042.70 L642.70,1047.50" stroke="#2e2800" stroke-width="0.9"/>
<rect x="829.80" y="1050.20" width="8.2" height="7.8" fill="#fff"/>
<rect x="830.40" y="1050.80" width="7.0" height="6.6" fill="#e6d21a" stroke="#2e2800" stroke-width="1.1"/>
<path d="M831.30,1051.70 L836.50,1056.50 M836.50,1051.70 L831.30,1056.50" stroke="#2e2800" stroke-width="0.9"/>
<rect x="913.80" y="1002.90" width="8.2" height="7.8" fill="#fff"/>
<rect x="914.40" y="1003.50" width="7.0" height="6.6" fill="#e6d21a" stroke="#2e2800" stroke-width="1.1"/>
<path d="M915.30,1004.40 L920.50,1009.20 M920.50,1004.40 L915.30,1009.20" stroke="#2e2800" stroke-width="0.9"/>
<circle cx="393" cy="959.5" r="4.6" fill="none" stroke="#333" stroke-width="1.0"/>
<path d="M388.4,959.5 L397.6,959.5 M393,954.9 L393,964.1" stroke="#333" stroke-width="1.0"/>
<circle cx="476.4" cy="980.8" r="4.6" fill="none" stroke="#333" stroke-width="1.0"/>
<path d="M471.79999999999995,980.8 L481.0,980.8 M476.4,976.1999999999999 L476.4,985.4" stroke="#333" stroke-width="1.0"/>
<circle cx="558.8" cy="950.9" r="4.6" fill="none" stroke="#333" stroke-width="1.0"/>
<path d="M554.1999999999999,950.9 L563.4,950.9 M558.8,946.3 L558.8,955.5" stroke="#333" stroke-width="1.0"/>
<circle cx="651.6" cy="968.4" r="4.6" fill="none" stroke="#333" stroke-width="1.0"/>
<path d="M647.0,968.4 L656.2,968.4 M651.6,963.8 L651.6,973.0" stroke="#333" stroke-width="1.0"/>
<circle cx="826.6" cy="1002.9" r="4.6" fill="none" stroke="#333" stroke-width="1.0"/>
<path d="M822.0,1002.9 L831.2,1002.9 M826.6,998.3 L826.6,1007.5" stroke="#333" stroke-width="1.0"/>
<circle cx="918.4" cy="1016.7" r="4.6" fill="none" stroke="#333" stroke-width="1.0"/>
<path d="M913.8,1016.7 L923.0,1016.7 M918.4,1012.1 L918.4,1021.3000000000001" stroke="#333" stroke-width="1.0"/>
<text transform="translate(270.6,966.7) rotate(-90)" font-size="18.3">Earthquake</text>
<line x1="264.6" y1="969.6" x2="264.6" y2="1001.4" stroke="#000" stroke-width="1.5" />
<path d="M264.6,1015.9 L260.5,998.4 L264.6,1001.4 L268.70000000000005,998.4 Z" fill="#000"/>
<text x="5.2" y="1096.8" font-size="26" text-anchor="start" font-weight="bold" >d</text>
<rect x="71.9" y="1100.0" width="872.5" height="212.4000000000001" fill="none" stroke="#000" stroke-width="1.7"/>
<line x1="71.9" y1="1130.2" x2="78.4" y2="1130.2" stroke="#000" stroke-width="1.6" />
<line x1="71.9" y1="1191.3" x2="78.4" y2="1191.3" stroke="#000" stroke-width="1.6" />
<line x1="71.9" y1="1251.5" x2="78.4" y2="1251.5" stroke="#000" stroke-width="1.6" />
<line x1="944.4" y1="1123.8" x2="937.1999999999999" y2="1123.8" stroke="#000" stroke-width="1.6" />
<line x1="944.4" y1="1184.0" x2="937.1999999999999" y2="1184.0" stroke="#000" stroke-width="1.6" />
<line x1="944.4" y1="1244.7" x2="937.1999999999999" y2="1244.7" stroke="#000" stroke-width="1.6" />
<line x1="83.21999999999997" y1="1312.4" x2="83.21999999999997" y2="1304.1000000000001" stroke="#000" stroke-width="1.4" />
<line x1="143.77999999999997" y1="1312.4" x2="143.77999999999997" y2="1304.1000000000001" stroke="#000" stroke-width="1.4" />
<line x1="204.33999999999997" y1="1312.4" x2="204.33999999999997" y2="1304.1000000000001" stroke="#000" stroke-width="1.4" />
<line x1="264.9" y1="1312.4" x2="264.9" y2="1304.1000000000001" stroke="#000" stroke-width="1.4" />
<line x1="325.46" y1="1312.4" x2="325.46" y2="1304.1000000000001" stroke="#000" stroke-width="1.4" />
<line x1="386.02" y1="1312.4" x2="386.02" y2="1304.1000000000001" stroke="#000" stroke-width="1.4" />
<line x1="446.58" y1="1312.4" x2="446.58" y2="1304.1000000000001" stroke="#000" stroke-width="1.4" />
<line x1="507.14" y1="1312.4" x2="507.14" y2="1304.1000000000001" stroke="#000" stroke-width="1.4" />
<line x1="567.7" y1="1312.4" x2="567.7" y2="1304.1000000000001" stroke="#000" stroke-width="1.4" />
<line x1="628.26" y1="1312.4" x2="628.26" y2="1304.1000000000001" stroke="#000" stroke-width="1.4" />
<line x1="688.8199999999999" y1="1312.4" x2="688.8199999999999" y2="1304.1000000000001" stroke="#000" stroke-width="1.4" />
<line x1="749.38" y1="1312.4" x2="749.38" y2="1304.1000000000001" stroke="#000" stroke-width="1.4" />
<line x1="809.9399999999999" y1="1312.4" x2="809.9399999999999" y2="1304.1000000000001" stroke="#000" stroke-width="1.4" />
<line x1="870.5" y1="1312.4" x2="870.5" y2="1304.1000000000001" stroke="#000" stroke-width="1.4" />
<line x1="931.06" y1="1312.4" x2="931.06" y2="1304.1000000000001" stroke="#000" stroke-width="1.4" />
<text x="63.5" y="1136.8" font-size="18.3" text-anchor="end" font-weight="normal" >15</text>
<text x="63.5" y="1197.8" font-size="18.3" text-anchor="end" font-weight="normal" >10</text>
<text x="63.5" y="1257.8" font-size="18.3" text-anchor="end" font-weight="normal" >5</text>
<text x="63.5" y="1317.8" font-size="18.3" text-anchor="end" font-weight="normal" >0</text>
<text x="143.5" y="1336.8" font-size="18.3" text-anchor="middle" font-weight="normal" >−20</text>
<text x="265" y="1336.8" font-size="18.3" text-anchor="middle" font-weight="normal" >0</text>
<text x="386.6" y="1336.8" font-size="18.3" text-anchor="middle" font-weight="normal" >20</text>
<text x="507.6" y="1336.8" font-size="18.3" text-anchor="middle" font-weight="normal" >40</text>
<text x="627.9" y="1336.8" font-size="18.3" text-anchor="middle" font-weight="normal" >60</text>
<text x="749" y="1336.8" font-size="18.3" text-anchor="middle" font-weight="normal" >80</text>
<text x="870.5" y="1336.8" font-size="18.3" text-anchor="middle" font-weight="normal" >100</text>
<text x="387.9" y="1361.8" font-size="18.3" text-anchor="start" font-weight="normal" >Time since earthquake (days)</text>
<text transform="translate(30.4,1274.4) rotate(-90)" font-size="18.35">Discharge (l s<tspan dy="-7" font-size="12.5">−1</tspan><tspan dy="7">)</tspan></text>
<text x="87.7" y="1125.3" font-size="18.3" text-anchor="start" font-weight="normal" >Discharge of new flows in Sonoma</text>
<path d="M93.9,1160.0 L99.30000000000001,1169.1999999999998 L88.5,1169.1999999999998 Z" fill="#3cbc34" stroke="#123a10" stroke-width="1.0" stroke-linejoin="miter"/>
<text x="104.5" y="1171.9" font-size="18.3" text-anchor="start" font-weight="normal" >Carriger Creek</text>
<path d="M93.9,1187.9 L98.9,1179.1 L88.9,1179.1 Z" fill="#7436a6" stroke="#2a1040" stroke-width="0.9" stroke-linejoin="miter"/>
<text x="104.5" y="1191" font-size="18.3" text-anchor="start" font-weight="normal" >Felder Creek</text>
<circle cx="93.9" cy="1203.5" r="4.8" fill="#2152b2" stroke="#0c2466" stroke-width="0.9"/>
<text x="104.5" y="1210.5" font-size="18.3" text-anchor="start" font-weight="normal" >Arroyo Seco Creek</text>
<circle cx="93.9" cy="1223.8" r="4.5" fill="#fff" stroke="#111" stroke-width="1.0"/>
<path d="M90.72,1220.62 L97.08,1226.98 M97.08,1220.62 L90.72,1226.98" stroke="#111" stroke-width="1.0"/>
<text x="104.5" y="1230" font-size="18.3" text-anchor="start" font-weight="normal" >Nathanson Creek</text>
<path d="M272.7,1311.9 C274.0,1308.5 278.2,1297.5 280.3,1291.6 C282.4,1285.7 283.5,1282.3 285.4,1276.4 C287.3,1270.5 289.6,1263.1 291.7,1256.1 C293.8,1249.1 296.0,1240.8 298.1,1234.5 C300.2,1228.2 302.3,1222.8 304.4,1218.1 C306.5,1213.4 308.6,1209.8 310.7,1206.6 C312.8,1203.4 315.0,1200.8 317.1,1199.0 C319.2,1197.2 321.1,1196.6 323.4,1195.9 C325.7,1195.2 328.4,1194.6 331.0,1194.6 C333.6,1194.6 336.1,1195.3 338.7,1195.9 C341.2,1196.5 344.4,1197.6 346.3,1198.4 C348.2,1199.2 349.5,1200.5 350.1,1200.9" fill="none" stroke="#7634a8" stroke-width="3.6" stroke-linejoin="round" />
<path d="M370.2,1208.8 C373.5,1210.3 383.4,1214.6 390.0,1218.0 C396.6,1221.4 404.4,1225.9 410.0,1229.0 C415.6,1232.1 421.4,1235.4 423.7,1236.7" fill="none" stroke="#7634a8" stroke-width="3.6" stroke-linejoin="round" />
<polyline points="446.3,1245.3 465.4,1252.9" fill="none" stroke="#7634a8" stroke-width="3.6" stroke-linejoin="round" stroke-linecap="butt" />
<path d="M503.4,1264.3 C507.0,1265.2 518.2,1267.8 525.0,1269.5 C531.8,1271.2 540.8,1273.6 544.0,1274.4" fill="none" stroke="#7634a8" stroke-width="3.6" stroke-linejoin="round" />
<path d="M563.0,1278.3 C567.5,1279.1 582.2,1281.6 590.0,1283.0 C597.8,1284.4 603.7,1285.4 610.0,1286.5 C616.3,1287.6 624.8,1289.2 627.7,1289.7" fill="none" stroke="#7634a8" stroke-width="3.6" stroke-linejoin="round" />
<path d="M284.0,1311.3 C285.8,1311.0 291.6,1310.2 295.0,1309.5 C298.4,1308.8 300.7,1309.0 304.4,1306.9 C308.1,1304.8 312.9,1300.3 317.1,1296.7 C321.3,1293.1 325.6,1289.1 329.8,1285.3 C334.0,1281.5 338.3,1277.4 342.5,1273.9 C346.7,1270.4 350.9,1267.2 355.1,1264.4 C359.3,1261.7 363.7,1259.4 367.8,1257.4 C371.9,1255.4 374.2,1254.3 380.0,1252.3 C385.8,1250.3 395.1,1247.0 402.8,1245.2 C410.5,1243.4 419.8,1242.3 426.0,1241.6 C432.2,1240.9 432.6,1241.0 440.0,1241.0 C447.4,1241.0 458.7,1240.9 470.4,1241.5 C482.1,1242.1 496.5,1243.2 510.0,1244.5 C523.5,1245.8 538.3,1248.0 551.6,1249.6 C564.9,1251.2 579.9,1252.8 590.0,1254.0 C600.1,1255.2 608.3,1256.2 612.0,1256.6" fill="none" stroke="#1d52a8" stroke-width="2.2" stroke-linejoin="round" />
<polyline points="614.0,1256.8 627.7,1258.7" fill="none" stroke="#1d52a8" stroke-width="2.0" stroke-linejoin="round" stroke-linecap="butt" />
<path d="M284.0,1311.5 C286.7,1311.0 293.4,1309.8 300.0,1308.5 C306.6,1307.2 316.3,1305.2 323.4,1303.7 C330.5,1302.2 336.1,1300.4 342.5,1299.2 C348.9,1298.0 355.2,1297.4 361.5,1296.7 C367.8,1296.0 373.6,1295.3 380.0,1294.8 C386.4,1294.3 392.7,1294.1 400.0,1293.9 C407.3,1293.7 419.8,1293.7 423.7,1293.7" fill="none" stroke="#2b3d52" stroke-width="2.2" stroke-linejoin="round" />
<path d="M444.7,1293.7 C447.2,1293.8 453.6,1293.8 460.0,1294.0 C466.4,1294.2 479.2,1294.6 483.1,1294.7" fill="none" stroke="#2b3d52" stroke-width="2.2" stroke-linejoin="round" />
<path d="M504.7,1295.3 C513.9,1295.6 544.1,1296.5 560.0,1297.0 C575.9,1297.5 588.7,1298.0 600.0,1298.5 C611.3,1299.0 623.1,1299.6 627.7,1299.8" fill="none" stroke="#2b3d52" stroke-width="2.2" stroke-linejoin="round" />
<rect x="160.1" y="1310.9" width="38.099999999999994" height="3" fill="#fff"/>
<rect x="253.7" y="1310.9" width="10.600000000000023" height="3" fill="#fff"/>
<rect x="592.2" y="1310.9" width="18.799999999999955" height="3" fill="#fff"/>
<line x1="437.2" y1="1249.5" x2="437.2" y2="1264.7" stroke="#000" stroke-width="2.4"/>
<line x1="494" y1="1255.4" x2="494" y2="1271.9" stroke="#000" stroke-width="2.4"/>
<line x1="561.3" y1="1224.5" x2="561.3" y2="1249.1" stroke="#000" stroke-width="2.4"/>
<line x1="644.2" y1="1163.3" x2="644.2" y2="1200.4" stroke="#000" stroke-width="2.4"/>
<line x1="826.3" y1="1218.8" x2="826.3" y2="1243.4" stroke="#000" stroke-width="2.4"/>
<line x1="361.4" y1="1194.4" x2="361.4" y2="1214.7" stroke="#000" stroke-width="2.4"/>
<line x1="430.2" y1="1208.8" x2="430.2" y2="1232.1" stroke="#000" stroke-width="2.4"/>
<line x1="475.5" y1="1240.2" x2="475.5" y2="1275.7" stroke="#000" stroke-width="2.4"/>
<line x1="551.1" y1="1263" x2="551.1" y2="1290.9" stroke="#000" stroke-width="2.4"/>
<line x1="644.2" y1="1241.5" x2="644.2" y2="1260.5" stroke="#000" stroke-width="2.4"/>
<line x1="434.2" y1="1229.8" x2="434.2" y2="1250.7" stroke="#000" stroke-width="2.4"/>
<line x1="468.9" y1="1179.5" x2="468.9" y2="1233.7" stroke="#000" stroke-width="2.4"/>
<line x1="494.3" y1="1225" x2="494.3" y2="1247.8" stroke="#000" stroke-width="2.4"/>
<line x1="554.7" y1="1227.5" x2="554.7" y2="1268.1" stroke="#000" stroke-width="2.4"/>
<line x1="615" y1="1250.3" x2="615" y2="1277" stroke="#000" stroke-width="2.4"/>
<line x1="482.5" y1="1237.7" x2="482.5" y2="1269.4" stroke="#000" stroke-width="2.4"/>
<path d="M179.5,1280.4 L186.9,1292.8 L172.1,1292.8 Z" fill="#fff"/>
<path d="M179.5,1282.4 L184.9,1291.6 L174.1,1291.6 Z" fill="#3cbc34" stroke="#123a10" stroke-width="1.0" stroke-linejoin="miter"/>
<path d="M258.8,1306.6000000000001 L266.2,1319.0 L251.4,1319.0 Z" fill="#fff"/>
<path d="M258.8,1308.6000000000001 L264.2,1317.8 L253.4,1317.8 Z" fill="#3cbc34" stroke="#123a10" stroke-width="1.0" stroke-linejoin="miter"/>
<path d="M361,1249.9 L368.4,1262.3 L353.6,1262.3 Z" fill="#fff"/>
<path d="M361,1251.9 L366.4,1261.1 L355.6,1261.1 Z" fill="#3cbc34" stroke="#123a10" stroke-width="1.0" stroke-linejoin="miter"/>
<path d="M437.2,1251.1000000000001 L444.59999999999997,1263.5 L429.8,1263.5 Z" fill="#fff"/>
<path d="M437.2,1253.1000000000001 L442.59999999999997,1262.3 L431.8,1262.3 Z" fill="#3cbc34" stroke="#123a10" stroke-width="1.0" stroke-linejoin="miter"/>
<path d="M476,1219.2 L483.4,1231.6 L468.6,1231.6 Z" fill="#fff"/>
<path d="M476,1221.2 L481.4,1230.3999999999999 L470.6,1230.3999999999999 Z" fill="#3cbc34" stroke="#123a10" stroke-width="1.0" stroke-linejoin="miter"/>
<path d="M494,1256.9 L501.4,1269.3 L486.6,1269.3 Z" fill="#fff"/>
<path d="M494,1258.9 L499.4,1268.1 L488.6,1268.1 Z" fill="#3cbc34" stroke="#123a10" stroke-width="1.0" stroke-linejoin="miter"/>
<path d="M561.3,1230.3000000000002 L568.6999999999999,1242.7 L553.9,1242.7 Z" fill="#fff"/>
<path d="M561.3,1232.3000000000002 L566.6999999999999,1241.5 L555.9,1241.5 Z" fill="#3cbc34" stroke="#123a10" stroke-width="1.0" stroke-linejoin="miter"/>
<path d="M615,1264.8000000000002 L622.4,1277.2 L607.6,1277.2 Z" fill="#fff"/>
<path d="M615,1266.8000000000002 L620.4,1276.0 L609.6,1276.0 Z" fill="#3cbc34" stroke="#123a10" stroke-width="1.0" stroke-linejoin="miter"/>
<path d="M644.2,1173.5 L651.6,1185.8999999999999 L636.8000000000001,1185.8999999999999 Z" fill="#fff"/>
<path d="M644.2,1175.5 L649.6,1184.6999999999998 L638.8000000000001,1184.6999999999998 Z" fill="#3cbc34" stroke="#123a10" stroke-width="1.0" stroke-linejoin="miter"/>
<path d="M826.3,1225.0 L833.6999999999999,1237.3999999999999 L818.9,1237.3999999999999 Z" fill="#fff"/>
<path d="M826.3,1227.0 L831.6999999999999,1236.1999999999998 L820.9,1236.1999999999998 Z" fill="#3cbc34" stroke="#123a10" stroke-width="1.0" stroke-linejoin="miter"/>
<path d="M166.6,1318.6000000000001 L173.6,1306.6 L159.6,1306.6 Z" fill="#fff"/>
<path d="M166.6,1316.6000000000001 L171.6,1307.8 L161.6,1307.8 Z" fill="#7436a6" stroke="#2a1040" stroke-width="0.9" stroke-linejoin="miter"/>
<path d="M361.4,1210.1000000000001 L368.4,1198.1 L354.4,1198.1 Z" fill="#fff"/>
<path d="M361.4,1208.1000000000001 L366.4,1199.3 L356.4,1199.3 Z" fill="#7436a6" stroke="#2a1040" stroke-width="0.9" stroke-linejoin="miter"/>
<path d="M430.2,1227.4 L437.2,1215.3999999999999 L423.2,1215.3999999999999 Z" fill="#fff"/>
<path d="M430.2,1225.4 L435.2,1216.6 L425.2,1216.6 Z" fill="#7436a6" stroke="#2a1040" stroke-width="0.9" stroke-linejoin="miter"/>
<path d="M475.5,1263.6000000000001 L482.5,1251.6 L468.5,1251.6 Z" fill="#fff"/>
<path d="M475.5,1261.6000000000001 L480.5,1252.8 L470.5,1252.8 Z" fill="#7436a6" stroke="#2a1040" stroke-width="0.9" stroke-linejoin="miter"/>
<path d="M494,1301.7 L501.0,1289.6999999999998 L487.0,1289.6999999999998 Z" fill="#fff"/>
<path d="M494,1299.7 L499.0,1290.8999999999999 L489.0,1290.8999999999999 Z" fill="#7436a6" stroke="#2a1040" stroke-width="0.9" stroke-linejoin="miter"/>
<path d="M551.1,1282.6000000000001 L558.1,1270.6 L544.1,1270.6 Z" fill="#fff"/>
<path d="M551.1,1280.6000000000001 L556.1,1271.8 L546.1,1271.8 Z" fill="#7436a6" stroke="#2a1040" stroke-width="0.9" stroke-linejoin="miter"/>
<path d="M615,1274.5 L622.0,1262.4999999999998 L608.0,1262.4999999999998 Z" fill="#fff"/>
<path d="M615,1272.5 L620.0,1263.6999999999998 L610.0,1263.6999999999998 Z" fill="#7436a6" stroke="#2a1040" stroke-width="0.9" stroke-linejoin="miter"/>
<path d="M644.2,1256.7 L651.2,1244.6999999999998 L637.2,1244.6999999999998 Z" fill="#fff"/>
<path d="M644.2,1254.7 L649.2,1245.8999999999999 L639.2,1245.8999999999999 Z" fill="#7436a6" stroke="#2a1040" stroke-width="0.9" stroke-linejoin="miter"/>
<path d="M826.3,1273.4 L833.3,1261.3999999999999 L819.3,1261.3999999999999 Z" fill="#fff"/>
<path d="M826.3,1271.4 L831.3,1262.6 L821.3,1262.6 Z" fill="#7436a6" stroke="#2a1040" stroke-width="0.9" stroke-linejoin="miter"/>
<circle cx="180" cy="1312.2" r="6.0" fill="#fff"/>
<circle cx="180" cy="1312.2" r="4.8" fill="#2152b2" stroke="#0c2466" stroke-width="0.9"/>
<circle cx="361" cy="1273.3" r="6.0" fill="#fff"/>
<circle cx="361" cy="1273.3" r="4.8" fill="#2152b2" stroke="#0c2466" stroke-width="0.9"/>
<circle cx="434.2" cy="1240.2" r="6.0" fill="#fff"/>
<circle cx="434.2" cy="1240.2" r="4.8" fill="#2152b2" stroke="#0c2466" stroke-width="0.9"/>
<circle cx="468.9" cy="1206.6" r="6.0" fill="#fff"/>
<circle cx="468.9" cy="1206.6" r="4.8" fill="#2152b2" stroke="#0c2466" stroke-width="0.9"/>
<circle cx="494.3" cy="1236.3" r="6.0" fill="#fff"/>
<circle cx="494.3" cy="1236.3" r="4.8" fill="#2152b2" stroke="#0c2466" stroke-width="0.9"/>
<circle cx="554.7" cy="1247.8" r="6.0" fill="#fff"/>
<circle cx="554.7" cy="1247.8" r="4.8" fill="#2152b2" stroke="#0c2466" stroke-width="0.9"/>
<circle cx="615" cy="1258.7" r="6.0" fill="#fff"/>
<circle cx="615" cy="1258.7" r="4.8" fill="#2152b2" stroke="#0c2466" stroke-width="0.9"/>
<circle cx="644.7" cy="1279.5" r="6.0" fill="#fff"/>
<circle cx="644.7" cy="1279.5" r="4.8" fill="#2152b2" stroke="#0c2466" stroke-width="0.9"/>
<circle cx="826.3" cy="1282.7" r="6.0" fill="#fff"/>
<circle cx="826.3" cy="1282.7" r="4.8" fill="#2152b2" stroke="#0c2466" stroke-width="0.9"/>
<circle cx="191.7" cy="1311.9" r="5.8" fill="#fff"/>
<circle cx="191.7" cy="1311.9" r="4.5" fill="#fff" stroke="#111" stroke-width="1.0"/>
<path d="M188.52,1308.72 L194.88,1315.08 M194.88,1308.72 L188.52,1315.08" stroke="#111" stroke-width="1.0"/>
<circle cx="361" cy="1306" r="5.8" fill="#fff"/>
<circle cx="361" cy="1306" r="4.5" fill="#fff" stroke="#111" stroke-width="1.0"/>
<path d="M357.82,1302.82 L364.18,1309.18 M364.18,1302.82 L357.82,1309.18" stroke="#111" stroke-width="1.0"/>
<circle cx="434.2" cy="1295.6" r="5.8" fill="#fff"/>
<circle cx="434.2" cy="1295.6" r="4.5" fill="#fff" stroke="#111" stroke-width="1.0"/>
<path d="M431.02,1292.42 L437.38,1298.78 M437.38,1292.42 L431.02,1298.78" stroke="#111" stroke-width="1.0"/>
<circle cx="482.5" cy="1253.5" r="5.8" fill="#fff"/>
<circle cx="482.5" cy="1253.5" r="4.5" fill="#fff" stroke="#111" stroke-width="1.0"/>
<path d="M479.32,1250.32 L485.68,1256.68 M485.68,1250.32 L479.32,1256.68" stroke="#111" stroke-width="1.0"/>
<circle cx="494" cy="1299.8" r="5.8" fill="#fff"/>
<circle cx="494" cy="1299.8" r="4.5" fill="#fff" stroke="#111" stroke-width="1.0"/>
<path d="M490.82,1296.62 L497.18,1302.98 M497.18,1296.62 L490.82,1302.98" stroke="#111" stroke-width="1.0"/>
<circle cx="554.7" cy="1313" r="5.8" fill="#fff"/>
<circle cx="554.7" cy="1313" r="4.5" fill="#fff" stroke="#111" stroke-width="1.0"/>
<path d="M551.52,1309.82 L557.88,1316.18 M557.88,1309.82 L551.52,1316.18" stroke="#111" stroke-width="1.0"/>
<circle cx="615" cy="1313" r="5.8" fill="#fff"/>
<circle cx="615" cy="1313" r="4.5" fill="#fff" stroke="#111" stroke-width="1.0"/>
<path d="M611.82,1309.82 L618.18,1316.18 M618.18,1309.82 L611.82,1316.18" stroke="#111" stroke-width="1.0"/>
<circle cx="644.7" cy="1296.5" r="5.8" fill="#fff"/>
<circle cx="644.7" cy="1296.5" r="4.5" fill="#fff" stroke="#111" stroke-width="1.0"/>
<path d="M641.52,1293.32 L647.88,1299.68 M647.88,1293.32 L641.52,1299.68" stroke="#111" stroke-width="1.0"/>
<circle cx="826.3" cy="1274.8" r="5.8" fill="#fff"/>
<circle cx="826.3" cy="1274.8" r="4.5" fill="#fff" stroke="#111" stroke-width="1.0"/>
<path d="M823.12,1271.62 L829.48,1277.98 M829.48,1271.62 L823.12,1277.98" stroke="#111" stroke-width="1.0"/>
<text transform="translate(276.6,1231.9) rotate(-90)" font-size="18.3">Earthquake</text>
<line x1="265.7" y1="1234.3" x2="265.7" y2="1265.9" stroke="#000" stroke-width="1.6" />
<path d="M265.7,1283.4 L260.9,1262.4 L265.7,1265.9 L270.5,1262.4 Z" fill="#000"/>
<path d="M916.87,1134.41 L922.53,1134.41 L922.53,1119.50 L924.88,1124.37 L929.12,1124.37 L921.58,1103.80 L917.82,1103.80 L910.28,1124.37 L914.52,1124.37 L916.87,1119.50 Z" fill="#000"/>
</svg></body></html>
